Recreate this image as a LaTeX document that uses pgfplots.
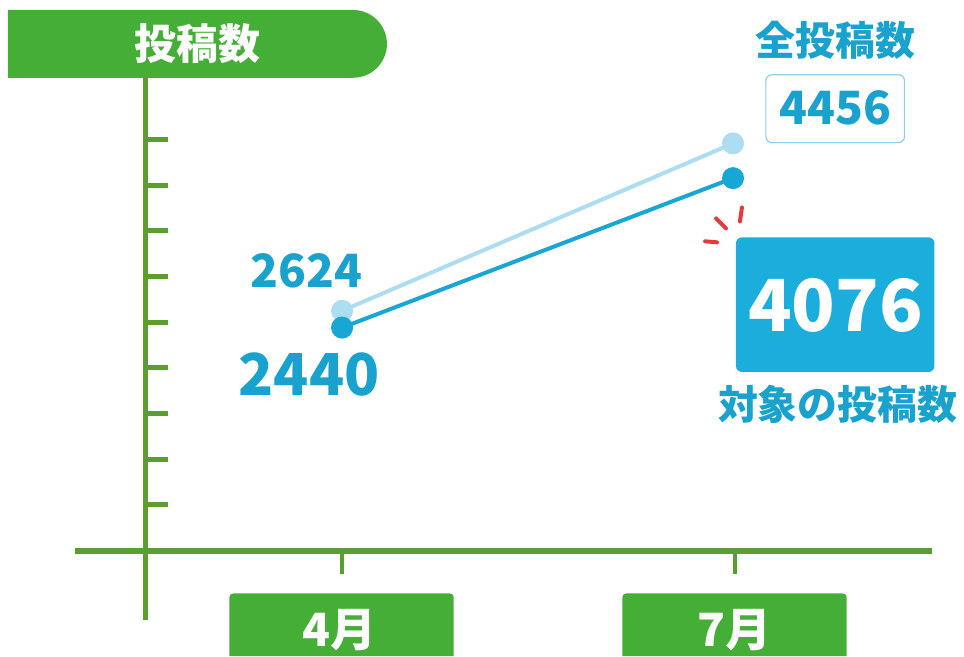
\documentclass[border=0pt]{standalone}
\usepackage{fontspec}
\setmainfont{Noto Sans CJK JP}
\usepackage{pgfplots}
\pgfplotsset{compat=1.18}

\definecolor{barGreen}{HTML}{45AE36}
\definecolor{axisGreen}{HTML}{5A9E2E}
\definecolor{allBlue}{HTML}{ACDDF0}
\definecolor{tgtBlue}{HTML}{18A6D4}
\definecolor{txtBlue}{HTML}{1AA2CE}
\definecolor{boxBlue}{HTML}{1BADDB}
\definecolor{frameBlue}{HTML}{8FCFE6}
\definecolor{burstRed}{HTML}{E53A3A}

\newcommand\fs[1]{\fontsize{#1}{#1}\selectfont\bfseries}

\begin{document}
\begin{tikzpicture}
% pixel grid: 1px = 0.5pt, origin at the top left
\begin{scope}[x=0.5pt,y=-0.5pt]
  \path[use as bounding box] (0,0) rectangle (964,658);
  % title bar
  \fill[barGreen] (8,10) -- (300,10) [rounded corners=17pt] -- (388,10) -- (388,78) [sharp corners] -- (8,78) -- cycle;
  \node[white] at (198,44) {\fs{21pt}投稿数};
  % axes
  \draw[axisGreen, line width=2.5pt] (146,78) -- (146,622);
  \draw[axisGreen, line width=3pt] (75,553) -- (935,553);
  \foreach \k in {1,...,9}
    \draw[axisGreen, line width=2.5pt] (146,{552-45.8*\k}) -- (168,{552-45.8*\k});
  \draw[axisGreen, line width=2pt] (343,553) -- (343,576);
  \draw[axisGreen, line width=2pt] (737,553) -- (737,576);
  % category boxes
  \fill[barGreen] (230,658) [rounded corners=2pt] -- (230,595) -- (455,595) [sharp corners] -- (455,658) -- cycle;
  \fill[barGreen] (624,658) [rounded corners=2pt] -- (624,595) -- (849,595) [sharp corners] -- (849,658) -- cycle;
  \node[white] at (340,632) {\fs{23pt}4月};
  \node[white] at (736,632) {\fs{23pt}7月};
\end{scope}

\begin{axis}[
  at={(0,0)}, anchor=north west,
  scale only axis, width=482pt, height=329pt,
  xmin=-0.875, xmax=1.584,
  ymin=-1157, ymax=6026,
  hide axis, clip=false,
]
  % all posts
  \addplot[allBlue, line width=2pt, mark=*, mark size=4.5pt,
    mark options={fill=allBlue, draw=none}] coordinates {(0,2624) (1,4456)};
  % target posts
  \addplot[tgtBlue, line width=2pt, mark=*, mark size=4.5pt,
    mark options={fill=tgtBlue, draw=none}] coordinates {(0,2440) (1,4076)};
\end{axis}

\begin{scope}[x=0.5pt,y=-0.5pt]
  \node[txtBlue] at (307,272) {\fs{23pt}2624};
  \node[txtBlue] at (310,376) {\fs{29pt}2440};
  \node[txtBlue] at (838,40) {\fs{20pt}全投稿数};
  \draw[frameBlue, line width=0.6pt, fill=white, rounded corners=3pt] (768,75) rectangle (907,143);
  \node[txtBlue] at (838,108) {\fs{23pt}4456};
  \fill[boxBlue, rounded corners=3pt] (738,238) rectangle (937,373);
  \node[white] at (838,306) {\fs{36pt}4076};
  \node[txtBlue] at (840,405) {\fs{20pt}対象の投稿数};
  % burst marks
  \draw[burstRed, line width=2pt, line cap=round] (744,208) -- (742,222);
  \draw[burstRed, line width=2pt, line cap=round] (718,219) -- (728,229);
  \draw[burstRed, line width=2pt, line cap=round] (707,242) -- (719,243);
\end{scope}
\end{tikzpicture}
\end{document}
